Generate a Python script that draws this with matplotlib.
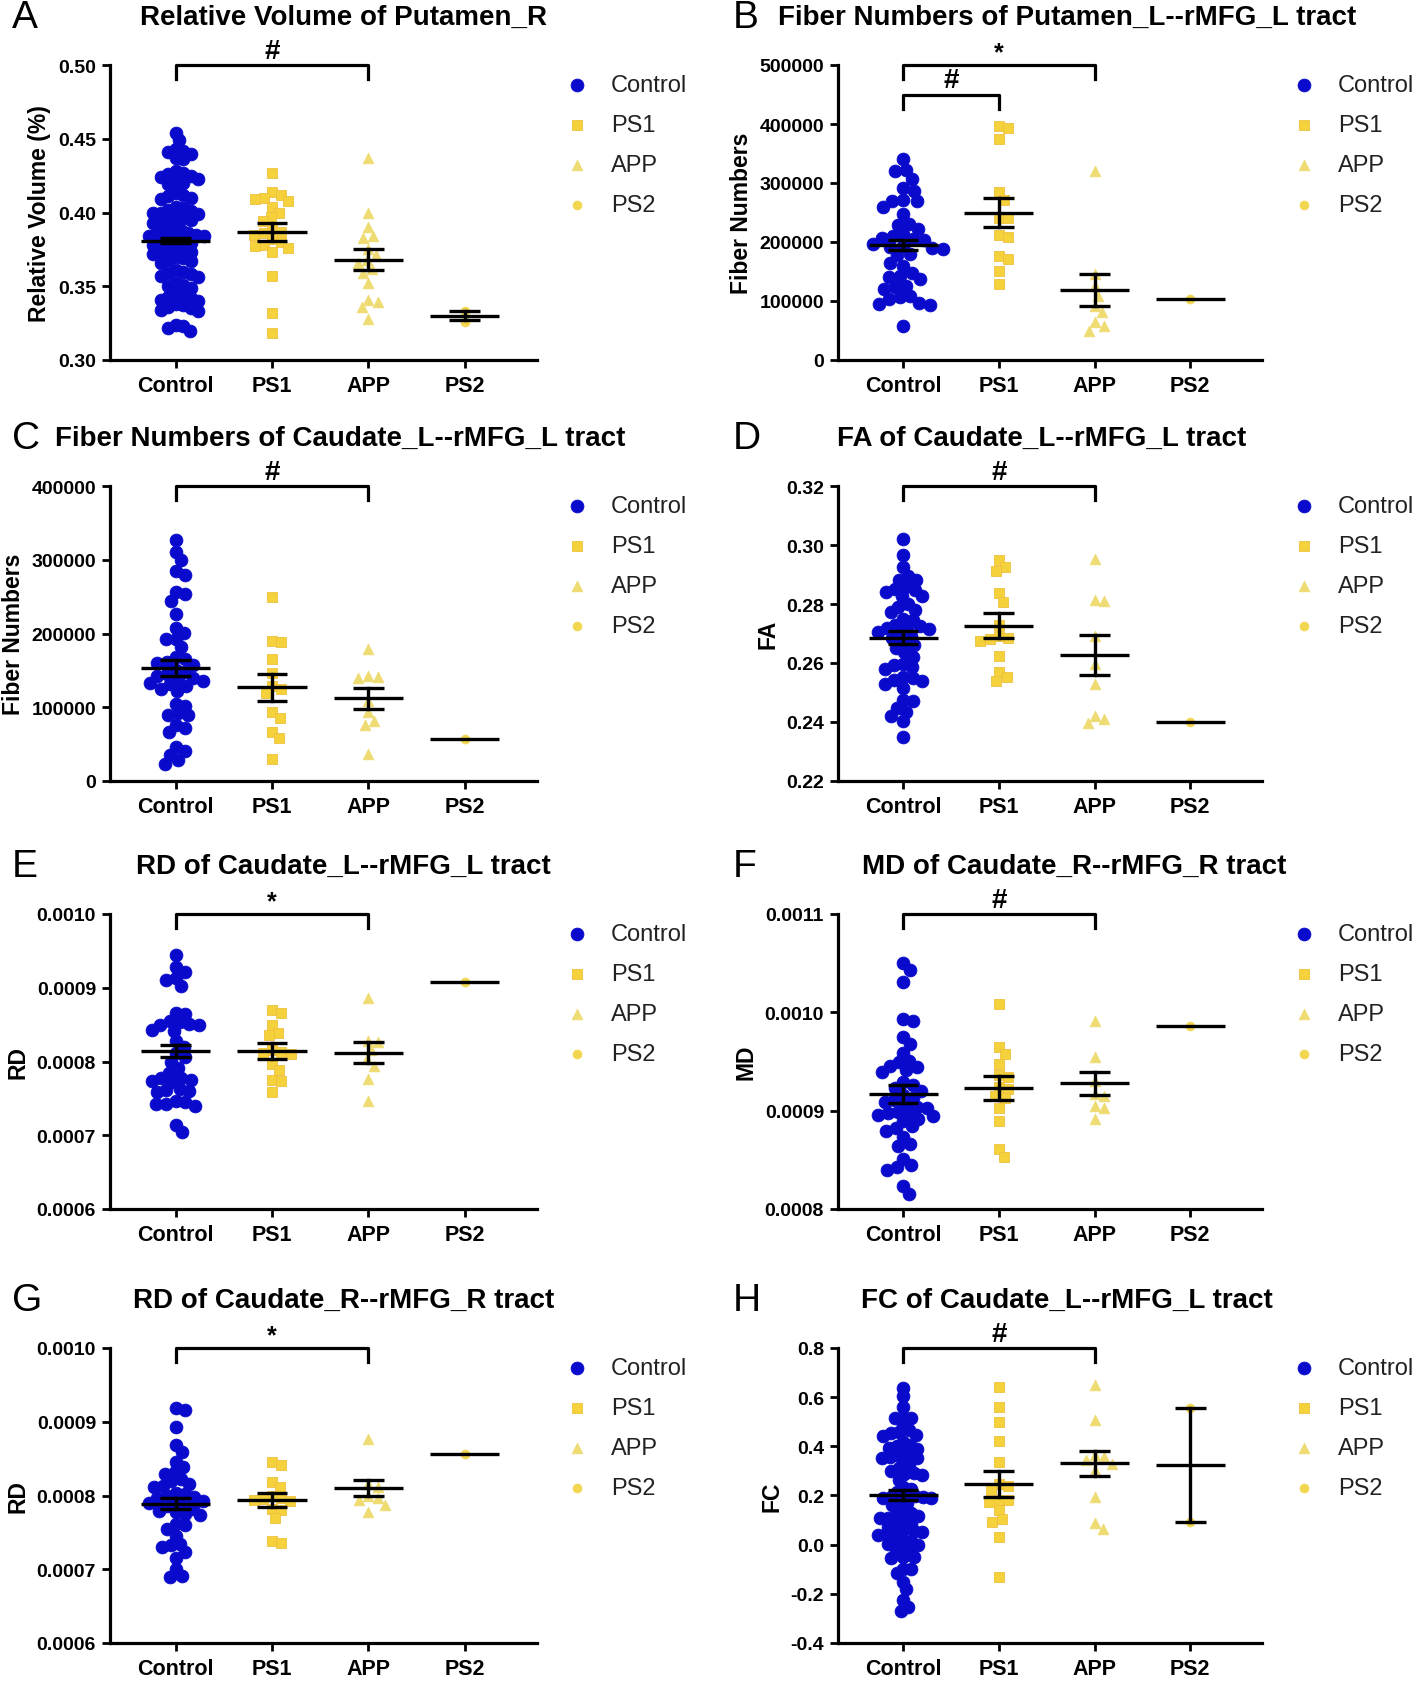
import numpy as np
import matplotlib.pyplot as plt
from matplotlib.ticker import FormatStrFormatter

plt.rcParams['font.family'] = ['Liberation Sans', 'DejaVu Sans']

groups = ['Control', 'PS1', 'APP', 'PS2']

# ---- A: relative volume of Putamen_R ----
a_control = [0.454, 0.449, 0.443, 0.442, 0.441, 0.440, 0.437, 0.436,
             0.428, 0.427, 0.426, 0.425, 0.424, 0.423, 0.421, 0.420, 0.419,
             0.413, 0.412, 0.411, 0.410, 0.409,
             0.404, 0.403, 0.402, 0.401, 0.400, 0.400, 0.399, 0.398,
             0.396, 0.395, 0.395, 0.394, 0.393, 0.392,
             0.388, 0.387, 0.387, 0.386, 0.386, 0.385, 0.384, 0.384,
             0.382, 0.381, 0.380, 0.380, 0.379, 0.378,
             0.376, 0.375, 0.374, 0.373, 0.372, 0.372,
             0.370, 0.369, 0.368, 0.367, 0.366,
             0.361, 0.360, 0.359, 0.358, 0.357, 0.356,
             0.352, 0.351, 0.350, 0.349,
             0.345, 0.344, 0.343, 0.342, 0.341, 0.340,
             0.338, 0.337, 0.336, 0.335, 0.334, 0.333,
             0.324, 0.323, 0.322, 0.320]
a_ps1 = [0.427, 0.414, 0.412, 0.410, 0.409, 0.408, 0.404, 0.400, 0.397, 0.394,
         0.389, 0.387, 0.386, 0.385, 0.382, 0.380, 0.378, 0.377, 0.376, 0.373,
         0.357, 0.332, 0.318]
a_app = [0.437, 0.400, 0.390, 0.384, 0.383, 0.375, 0.371, 0.368, 0.366, 0.362,
         0.359, 0.352, 0.341, 0.339, 0.336, 0.328]
a_ps2 = [0.333, 0.326]
a_mean = [0.381, 0.387, 0.368, 0.330]
a_sem = [0.002, 0.006, 0.007, 0.003]

# ---- B: fiber numbers Putamen_L--rMFG_L ----
b_control = [340000, 322000, 321000, 306000, 292000, 287000, 272000, 270000, 269000,
             260000, 247000, 231000, 229000, 222000, 213000, 210000, 207000, 205000,
             203000, 196000, 194000, 192000, 190000, 188000, 180000, 178000, 165000,
             160000, 148000, 142000, 140000, 137000, 126000, 123000, 120000, 109000,
             106000, 103000, 97000, 95000, 94000, 58000]
b_ps1 = [397000, 394000, 374000, 284000, 271000, 241000, 240000, 212000, 209000,
         177000, 171000, 151000, 129000]
b_app = [320000, 146000, 125000, 109000, 92000, 81000, 64000, 58000, 50000]
b_ps2 = [104000]
b_mean = [195000, 250000, 118000, 104000]
b_sem = [9000, 25000, 27000, 0]

# ---- C: fiber numbers Caudate_L--rMFG_L ----
c_control = [327000, 310000, 299000, 285000, 279000, 256000, 253000, 244000, 227000,
             208000, 201000, 193000, 192000, 182000, 168000, 165000, 162000, 160000,
             157000, 151000, 148000, 145000, 143000, 140000, 138000, 136000, 133000,
             131000, 129000, 125000, 122000, 105000, 102000, 92000, 90000, 89000,
             76000, 72000, 66000, 46000, 41000, 35000, 28000, 23000]
c_ps1 = [249000, 190000, 188000, 165000, 147000, 129000, 125000, 119000, 93000,
         86000, 66000, 58000, 30000]
c_app = [179000, 142000, 141000, 140000, 109000, 93000, 82000, 76000, 37000]
c_ps2 = [57000]
c_mean = [153000, 127000, 112000, 57000]
c_sem = [11000, 18000, 14000, 0]

# ---- D: FA Caudate_L--rMFG_L ----
d_control = [0.3022, 0.2967, 0.2924, 0.2896, 0.2881, 0.2880, 0.2856, 0.2852, 0.2848,
             0.2842, 0.2828, 0.2826, 0.2800, 0.2790, 0.2780, 0.2772, 0.2749, 0.2747,
             0.2730, 0.2725, 0.2720, 0.2718, 0.2715, 0.2704, 0.2700, 0.2690, 0.2684,
             0.2670, 0.2660, 0.2650, 0.2636, 0.2622, 0.2597, 0.2592, 0.2586, 0.2580,
             0.2552, 0.2548, 0.2544, 0.2540, 0.2530, 0.2515, 0.2473, 0.2470, 0.2447,
             0.2433, 0.2422, 0.2402, 0.2349]
d_ps1 = [0.2949, 0.2924, 0.2913, 0.2836, 0.2808, 0.2730, 0.2690, 0.2685, 0.2680,
         0.2676, 0.2623, 0.2569, 0.2552, 0.2538]
d_app = [0.2952, 0.2812, 0.2810, 0.2693, 0.2597, 0.2529, 0.2422, 0.2411, 0.2396]
d_ps2 = [0.2400]
d_mean = [0.2685, 0.2727, 0.2627, 0.2400]
d_sem = [0.0022, 0.0043, 0.0069, 0]

# ---- E: RD Caudate_L--rMFG_L ----
e_control = [0.000944, 0.000928, 0.000922, 0.000913, 0.000911, 0.000902, 0.000866,
             0.000864, 0.000855, 0.000853, 0.000851, 0.000850, 0.000849, 0.000843,
             0.000842, 0.000828, 0.000820, 0.000812, 0.000806, 0.000800, 0.000791,
             0.000785, 0.000778, 0.000777, 0.000775, 0.000773, 0.000772, 0.000763,
             0.000761, 0.000760, 0.000758, 0.000747, 0.000745, 0.000743, 0.000742,
             0.000740, 0.000714, 0.000704]
e_ps1 = [0.000870, 0.000866, 0.000849, 0.000839, 0.000836, 0.000815, 0.000813,
         0.000812, 0.000810, 0.000797, 0.000788, 0.000775, 0.000773, 0.000758]
e_app = [0.000886, 0.000828, 0.000826, 0.000815, 0.000803, 0.000794, 0.000776, 0.000747]
e_ps2 = [0.000908]
e_mean = [0.000814, 0.000814, 0.000812, 0.000908]
e_sem = [0.0000085, 0.000011, 0.000014, 0]

# ---- F: MD Caudate_R--rMFG_R ----
f_control = [0.001050, 0.001043, 0.001031, 0.000993, 0.000991, 0.000975, 0.000968,
             0.000959, 0.000951, 0.000949, 0.000945, 0.000944, 0.000941, 0.000939,
             0.000929, 0.000926, 0.000923, 0.000920, 0.000916, 0.000913, 0.000911,
             0.000909, 0.000906, 0.000904, 0.000903, 0.000899, 0.000898, 0.000897,
             0.000896, 0.000895, 0.000892, 0.000889, 0.000884, 0.000882, 0.000879,
             0.000873, 0.000866, 0.000864, 0.000851, 0.000845, 0.000843, 0.000840,
             0.000823, 0.000815]
f_ps1 = [0.001008, 0.000965, 0.000958, 0.000947, 0.000936, 0.000934, 0.000924,
         0.000922, 0.000915, 0.000913, 0.000903, 0.000890, 0.000861, 0.000853]
f_app = [0.000991, 0.000955, 0.000930, 0.000917, 0.000915, 0.000905, 0.000903, 0.000892]
f_ps2 = [0.000986]
f_mean = [0.000917, 0.000923, 0.000928, 0.000986]
f_sem = [0.000009, 0.0000125, 0.0000117, 0]

# ---- G: RD Caudate_R--rMFG_R ----
g_control = [0.000918, 0.000916, 0.000893, 0.000868, 0.000859, 0.000846, 0.000838,
             0.000832, 0.000829, 0.000822, 0.000819, 0.000816, 0.000813, 0.000811,
             0.000804, 0.000802, 0.000800, 0.000798, 0.000797, 0.000793, 0.000791,
             0.000790, 0.000788, 0.000786, 0.000782, 0.000779, 0.000777, 0.000775,
             0.000773, 0.000761, 0.000760, 0.000755, 0.000745, 0.000734, 0.000733,
             0.000730, 0.000723, 0.000715, 0.000700, 0.000691, 0.000690]
g_ps1 = [0.000845, 0.000841, 0.000818, 0.000811, 0.000800, 0.000796, 0.000795,
         0.000794, 0.000793, 0.000782, 0.000781, 0.000770, 0.000738, 0.000736]
g_app = [0.000876, 0.000815, 0.000812, 0.000800, 0.000796, 0.000794, 0.000787, 0.000777]
g_ps2 = [0.000856]
g_mean = [0.000789, 0.000794, 0.000810, 0.000856]
g_sem = [0.0000075, 0.0000095, 0.0000105, 0]

# ---- H: FC Caudate_L--rMFG_L ----
h_control = [0.637, 0.603, 0.562, 0.520, 0.517, 0.515, 0.487, 0.467, 0.460, 0.455,
             0.447, 0.444, 0.419, 0.406, 0.400, 0.395, 0.390, 0.385, 0.365, 0.360,
             0.357, 0.353, 0.351, 0.338, 0.318, 0.310, 0.300, 0.292, 0.286, 0.284,
             0.263, 0.236, 0.226, 0.216, 0.202, 0.198, 0.195, 0.192, 0.190, 0.188,
             0.175, 0.168, 0.161, 0.134, 0.128, 0.122, 0.115, 0.110, 0.107, 0.093,
             0.085, 0.078, 0.073, 0.059, 0.055, 0.050, 0.046, 0.042, 0.039, 0.019,
             0.013, 0.008, 0.004, 0.000, -0.015, -0.022, -0.029, -0.049, -0.052,
             -0.056, -0.097, -0.098, -0.117, -0.151, -0.181, -0.226, -0.253, -0.271]
h_ps1 = [0.640, 0.562, 0.501, 0.422, 0.338, 0.245, 0.240, 0.222, 0.182, 0.180,
         0.175, 0.141, 0.104, 0.093, 0.032, -0.131]
h_app = [0.648, 0.508, 0.365, 0.355, 0.345, 0.330, 0.304, 0.195, 0.087, 0.063]
h_ps2 = [0.555, 0.091]
h_mean = [0.202, 0.247, 0.331, 0.323]
h_sem = [0.020, 0.054, 0.050, 0.232]

letters = ['A', 'B', 'C', 'D', 'E', 'F', 'G', 'H']
titles = ['Relative Volume of Putamen_R',
          'Fiber Numbers of Putamen_L--rMFG_L tract',
          'Fiber Numbers of Caudate_L--rMFG_L tract',
          'FA of Caudate_L--rMFG_L tract',
          'RD of Caudate_L--rMFG_L tract',
          'MD of Caudate_R--rMFG_R tract',
          'RD of Caudate_R--rMFG_R tract',
          'FC of Caudate_L--rMFG_L tract']
ylabels = ['Relative Volume (%)', 'Fiber Numbers', 'Fiber Numbers', 'FA',
           'RD', 'MD', 'RD', 'FC']
ylims = [(0.30, 0.50), (0, 500000), (0, 400000), (0.22, 0.32),
         (0.0006, 0.0010), (0.0008, 0.0011), (0.0006, 0.0010), (-0.4, 0.8)]
ysteps = [0.05, 100000, 100000, 0.02, 0.0001, 0.0001, 0.0001, 0.2]
yfmts = ['%.2f', '%d', '%d', '%.2f', '%.4f', '%.4f', '%.4f', '%.1f']
# significance brackets: (group from, group to, label)
sig = [[(0, 2, '#')], [(0, 2, '*'), (0, 1, '#')], [(0, 2, '#')], [(0, 2, '#')],
       [(0, 2, '*')], [(0, 2, '#')], [(0, 2, '*')], [(0, 2, '#')]]
sig_levels = [[0.50], [500000, 450000], [400000], [0.32], [0.0010], [0.0011],
              [0.0010], [0.8]]

data = [(a_control, a_ps1, a_app, a_ps2, a_mean, a_sem),
        (b_control, b_ps1, b_app, b_ps2, b_mean, b_sem),
        (c_control, c_ps1, c_app, c_ps2, c_mean, c_sem),
        (d_control, d_ps1, d_app, d_ps2, d_mean, d_sem),
        (e_control, e_ps1, e_app, e_ps2, e_mean, e_sem),
        (f_control, f_ps1, f_app, f_ps2, f_mean, f_sem),
        (g_control, g_ps1, g_app, g_ps2, g_mean, g_sem),
        (h_control, h_ps1, h_app, h_ps2, h_mean, h_sem)]

blue = '#0A0ACC'
yel_sq = '#F5D23C'
yel_tri = '#EEDB72'
yel_ci = '#F2D650'
styles = [('o', 85, blue, blue),
          ('s', 56, yel_sq, '#F0C040'),
          ('^', 58, yel_tri, yel_tri),
          ('o', 40, yel_ci, yel_ci)]
# packing distance (px) of the swarm, per panel, per group
ctrl_pack = [8.0, 11.0, 10.0, 9.5, 10.0, 10.0, 9.5, 8.0]
other_pack = [9.5, 10.0, 9.0]


def swarm(vals, yscale, d):
    """beeswarm x offsets (pixels) for values; yscale = pixels per data unit"""
    ys = np.asarray(vals, dtype=float) * yscale
    xs = np.zeros(len(ys))
    placed = []
    for i in np.argsort(-ys):
        cands = [0.0]
        for j in placed:
            dy = ys[i] - ys[j]
            if abs(dy) < d:
                dx = np.sqrt(d * d - dy * dy)
                cands += [xs[j] + dx, xs[j] - dx]
        cands.sort(key=lambda c: (round(abs(c), 6), -c))
        for c in cands:
            if all((c - xs[j]) ** 2 + (ys[i] - ys[j]) ** 2 >= d * d - 1e-6 for j in placed):
                xs[i] = c
                break
        placed.append(i)
    return xs


W, H = 1418, 1683
fig = plt.figure(figsize=(W / 100, H / 100), dpi=100)
lefts = [110 / W, 838 / W]
widths = [427 / W, 424 / W]
tops_px = [66, 487, 915, 1349]
ax_h = 295
title_x = [0.546, 0.54, 0.539, 0.48, 0.546, 0.556, 0.546, 0.54]
letter_x = [12, 733]

for p in range(8):
    row, col = divmod(p, 2)
    ax = fig.add_axes([lefts[col], 1 - (tops_px[row] + ax_h) / H, widths[col], ax_h / H])
    y0, y1 = ylims[p]
    ax.set_ylim(y0, y1)
    ax.set_xlim(-0.68, 3.75)
    px_per_cat = widths[col] * W / 4.43
    yscale = ax_h / (y1 - y0)

    ctrl, ps1, app, ps2, means, sems = data[p]
    packs = [ctrl_pack[p]] + other_pack
    for k, vals in enumerate([ctrl, ps1, app, ps2]):
        mk, s, fc, ec = styles[k]
        offs = swarm(vals, yscale, packs[k]) / px_per_cat
        ax.scatter(k + offs, vals, marker=mk, s=s, c=fc, edgecolors=ec,
                   linewidths=0.6, zorder=2, clip_on=False)
        m, e = means[k], sems[k]
        ax.plot([k - 0.36, k + 0.36], [m, m], color='k', lw=2.4, zorder=3,
                solid_capstyle='butt')
        if e > 0:
            ax.plot([k, k], [m - e, m + e], color='k', lw=2.4, zorder=3)
            for yy in (m - e, m + e):
                ax.plot([k - 0.16, k + 0.16], [yy, yy], color='k', lw=2.4,
                        zorder=3, solid_capstyle='butt')

    # significance brackets
    drop = 14 / yscale
    for (g0, g1, lab), lev in zip(sig[p], sig_levels[p]):
        ax.plot([g0, g0, g1, g1], [lev - drop, lev, lev, lev - drop], color='k',
                lw=2.3, clip_on=False, zorder=4)
        ax.text((g0 + g1) / 2, lev + 1 / yscale, lab, ha='center', va='bottom',
                fontsize=20 if lab == '#' else 18, fontweight='bold')

    ax.set_yticks(np.arange(y0, y1 + ysteps[p] / 2, ysteps[p]))
    ax.yaxis.set_major_formatter(FormatStrFormatter(yfmts[p]))
    ax.set_xticks(range(4))
    ax.set_xticklabels(groups)
    ax.tick_params(width=2, length=6, labelsize=14, pad=4)
    ax.tick_params(axis='x', labelsize=15.5, pad=5)
    for lbl in ax.get_xticklabels() + ax.get_yticklabels():
        lbl.set_fontweight('bold')
    for side in ('top', 'right'):
        ax.spines[side].set_visible(False)
    for side in ('left', 'bottom'):
        ax.spines[side].set_linewidth(2.3)
    ax.set_ylabel(ylabels[p], fontsize=16.5, fontweight='bold', labelpad=5)

    # title and panel letter
    ax.text(title_x[p], 1 + 48 / ax_h, titles[p], transform=ax.transAxes,
            ha='center', va='center', fontsize=20, fontweight='bold')
    fig.text(letter_x[col] / W, 1 - (tops_px[row] - 48) / H, letters[p],
             fontsize=28, ha='left', va='center')

    # legend
    lx = 1.093 if col == 0 else 1.099
    tx = lx + 0.08
    for r, gname in enumerate(groups):
        mk, s, fc, ec = styles[r]
        yy = 0.932 - r * 0.135
        ax.scatter([lx], [yy], marker=mk, s=s, c=fc, edgecolors=ec,
                   linewidths=0.6, transform=ax.transAxes, clip_on=False)
        ax.text(tx, yy, gname, transform=ax.transAxes, va='center', ha='left',
                fontsize=17, color='#222222')

fig.savefig('out.png', dpi=100)
